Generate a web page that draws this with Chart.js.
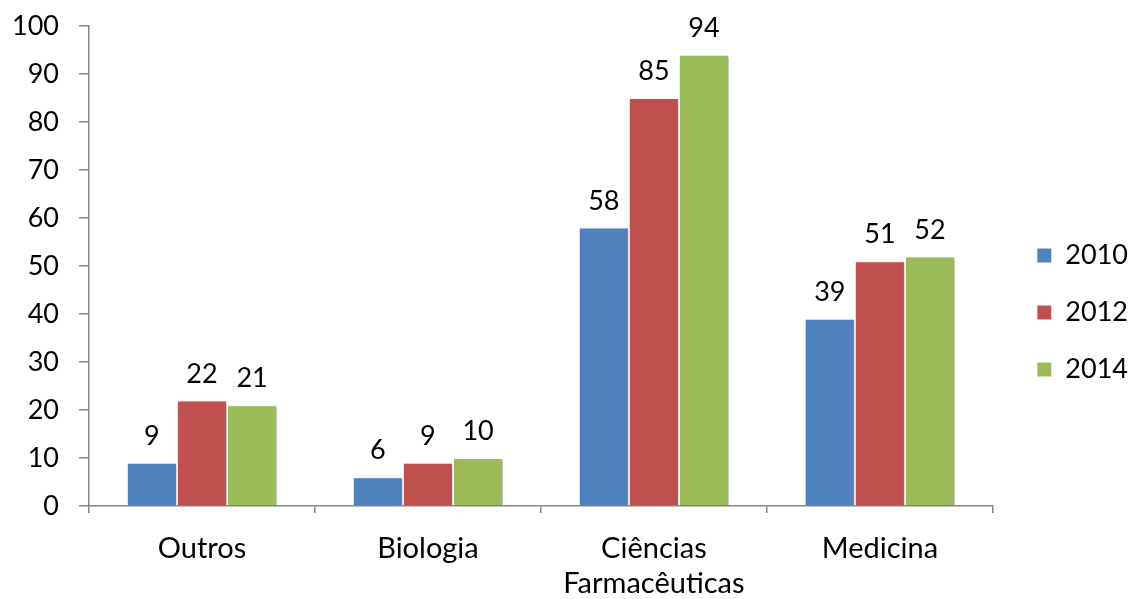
<!DOCTYPE html>
<html>
<head>
<meta charset="utf-8">
<script src="https://cdn.jsdelivr.net/npm/chart.js@4.4.1/dist/chart.umd.min.js"></script>
<style>
  html, body { margin: 0; padding: 0; background: #ffffff; }
  #wrap { width: 1135px; height: 599px; position: relative; }
</style>
</head>
<body>
<div id="wrap"><canvas id="chart"></canvas></div>
<script>
// Categories and yearly values
const categories = ['Outros', 'Biologia', ['Ciências', 'Farmacêuticas'], 'Medicina'];
const years = ['2010', '2012', '2014'];
const values2010 = [9, 6, 58, 39];
const values2012 = [22, 9, 85, 51];
const values2014 = [21, 10, 94, 52];
const yTicks = [0, 10, 20, 30, 40, 50, 60, 70, 80, 90, 100];

const colors = ['#4F81BD', '#C0504D', '#9BBB59'];
const FAMILY = 'Lato, "Open Sans", sans-serif';
const NUM_FONT = { family: FAMILY, size: 27 };
const CAT_FONT = { family: FAMILY, size: 29, lineHeight: 1.2 };

// Value labels above every bar
const valueLabels = {
  id: 'valueLabels',
  afterDatasetsDraw(chart) {
    const ctx = chart.ctx;
    ctx.save();
    ctx.font = `${NUM_FONT.size}px ${NUM_FONT.family}`;
    ctx.fillStyle = '#000000';
    ctx.textAlign = 'center';
    ctx.textBaseline = 'bottom';
    chart.data.datasets.forEach((ds, i) => {
      chart.getDatasetMeta(i).data.forEach((bar, j) => {
        ctx.fillText(String(ds.data[j]), bar.x, bar.y - 13);
      });
    });
    ctx.restore();
  }
};

// Soft drop shadow behind the bars
const barShadow = {
  id: 'barShadow',
  beforeDatasetsDraw(chart) {
    const ctx = chart.ctx;
    ctx.save();
    ctx.shadowColor = 'rgba(0,0,0,0.28)';
    ctx.shadowBlur = 3;
    ctx.shadowOffsetX = 1.5;
    ctx.shadowOffsetY = 1;
  },
  afterDatasetsDraw(chart) {
    chart.ctx.restore();
  }
};

// Leave a wider gap between the plot and the legend keys
const legendGap = {
  id: 'legendGap',
  afterLayout(chart) {
    const lg = chart.legend;
    if (lg) { lg.left += 14; lg.right += 14; }
  }
};

new Chart(document.getElementById('chart'), {
  type: 'bar',
  data: {
    labels: categories,
    datasets: [
      { label: years[0], data: values2010, backgroundColor: colors[0] },
      { label: years[1], data: values2012, backgroundColor: colors[1] },
      { label: years[2], data: values2014, backgroundColor: colors[2] }
    ].map(d => Object.assign(d, {
      borderColor: '#ffffff',
      borderWidth: 1,
      categoryPercentage: 0.665,
      barPercentage: 1.0
    }))
  },
  options: {
    responsive: true,
    maintainAspectRatio: false,
    animation: false,
    layout: { padding: { top: 26, right: 11, left: 0, bottom: 0 } },
    plugins: {
      legend: {
        position: 'right',
        labels: {
          font: NUM_FONT,
          color: '#000000',
          boxWidth: 15,
          boxHeight: 15,
          padding: 30
        }
      },
      tooltip: { enabled: false }
    },
    scales: {
      y: {
        min: 0,
        max: 100,
        afterBuildTicks(scale) {
          scale.ticks = yTicks.map(v => ({ value: v }));
        },
        afterFit(scale) {
          scale.width = 89;
          scale.paddingTop = 0;
        },
        ticks: { font: NUM_FONT, color: '#000000', padding: 20 },
        grid: {
          drawOnChartArea: false,
          drawTicks: true,
          tickLength: 10,
          color: '#868686',
          lineWidth: 1.5
        },
        border: { color: '#868686', width: 1.5 }
      },
      x: {
        afterFit(scale) { scale.height = 93; },
        ticks: { font: CAT_FONT, color: '#000000', padding: 18 },
        grid: {
          offset: true,
          drawOnChartArea: false,
          drawTicks: true,
          tickLength: 7,
          color: '#868686',
          lineWidth: 1.5
        },
        border: { color: '#868686', width: 1.5 }
      }
    }
  },
  plugins: [barShadow, valueLabels, legendGap]
});
</script>
</body>
</html>
